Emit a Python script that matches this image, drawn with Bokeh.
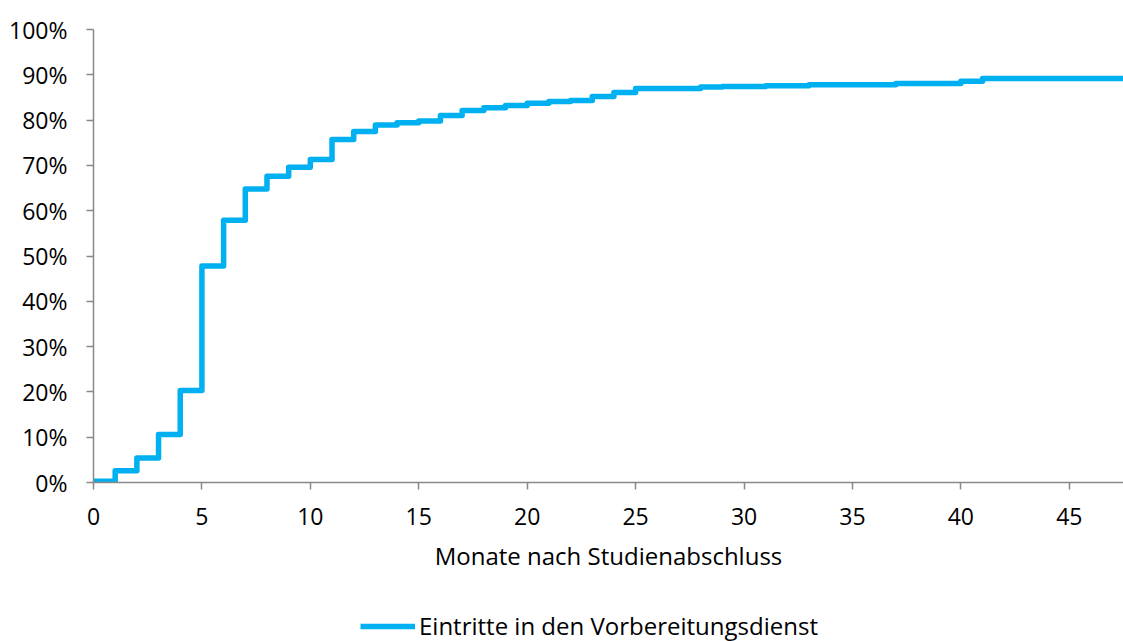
from bokeh.plotting import figure
from bokeh.layouts import column
from bokeh.models import FixedTicker, PrintfTickFormatter, Legend, LegendItem, Range1d
from bokeh.embed import file_html
from bokeh.resources import INLINE

# Data: cumulative share (%) entering the Vorbereitungsdienst, by month after graduation
months = list(range(0, 49))
share = [0.3, 2.6, 5.4, 10.6, 20.3, 47.8, 57.9, 64.8, 67.6, 69.6,
         71.3, 75.7, 77.5, 78.9, 79.4, 79.8, 81.0, 82.1, 82.7, 83.2,
         83.7, 84.1, 84.3, 85.2, 86.1, 87.0, 87.0, 87.0, 87.3, 87.4,
         87.4, 87.6, 87.6, 87.8, 87.8, 87.8, 87.8, 88.1, 88.1, 88.1,
         88.6, 89.2, 89.2, 89.2, 89.2, 89.2, 89.2, 89.2, 89.2]
series_name = "Eintritte in den Vorbereitungsdienst"
x_ticks = [0, 5, 10, 15, 20, 25, 30, 35, 40, 45]
y_ticks = [0, 10, 20, 30, 40, 50, 60, 70, 80, 90, 100]
x_label = "Monate nach Studienabschluss"

FONT = "Open Sans"
FS = "23px"
FS_L = "24px"
TXT = "#000000"
AX = "#898989"
BLUE = "#00B0F0"
LW = 5.5

p = figure(width=1123, height=580, output_backend="svg", toolbar_location=None,
           x_range=Range1d(0, 47.5), y_range=Range1d(0, 100),
           min_border_left=93, min_border_top=29, min_border_right=0,
           min_border_bottom=98)
p.outline_line_color = None
p.xgrid.visible = False
p.ygrid.visible = False

r = p.step(months, share, mode="after", line_color=BLUE, line_width=LW,
           line_join="round")

for ax in (p.xaxis[0], p.yaxis[0]):
    ax.axis_line_color = AX
    ax.axis_line_width = 1.5
    ax.major_tick_line_color = AX
    ax.major_tick_line_width = 1.5
    ax.major_tick_out = 7
    ax.major_tick_in = 0
    ax.minor_tick_line_color = None
    ax.major_label_text_font = FONT
    ax.major_label_text_font_size = FS
    ax.major_label_text_color = TXT

p.xaxis.ticker = FixedTicker(ticks=x_ticks)
p.yaxis.ticker = FixedTicker(ticks=y_ticks)
p.yaxis.formatter = PrintfTickFormatter(format="%d%%")
p.xaxis.major_label_standoff = 18
p.yaxis.major_label_standoff = 19
p.xaxis.axis_label = x_label
p.xaxis.axis_label_text_font = FONT
p.xaxis.axis_label_text_font_size = FS_L
p.xaxis.axis_label_text_font_style = "normal"
p.xaxis.axis_label_text_color = TXT
p.xaxis.axis_label_standoff = 11

# Legend strip below the chart (legend-only proxy line, no visible data)
nan = float("nan")
p2 = figure(width=1123, height=61, output_backend="svg", toolbar_location=None,
            x_range=Range1d(0, 1), y_range=Range1d(0, 1),
            min_border_left=0, min_border_right=0, min_border_top=0,
            min_border_bottom=0)
p2.outline_line_color = None
p2.axis.visible = False
p2.grid.visible = False
proxy = p2.line(x=[nan, nan], y=[nan, nan], line_color=BLUE, line_width=LW)

legend = Legend(items=[LegendItem(label=series_name, renderers=[proxy])],
                orientation="horizontal", location=(267, -1),
                label_text_font=FONT, label_text_font_size=FS_L,
                label_text_color=TXT, glyph_width=55, glyph_height=24,
                label_standoff=4, padding=0, margin=0, spacing=0,
                border_line_color=None, background_fill_alpha=0)
p2.add_layout(legend, "center")

layout = column(p, p2, spacing=0)
open("out.html", "w").write(file_html(layout, INLINE))
